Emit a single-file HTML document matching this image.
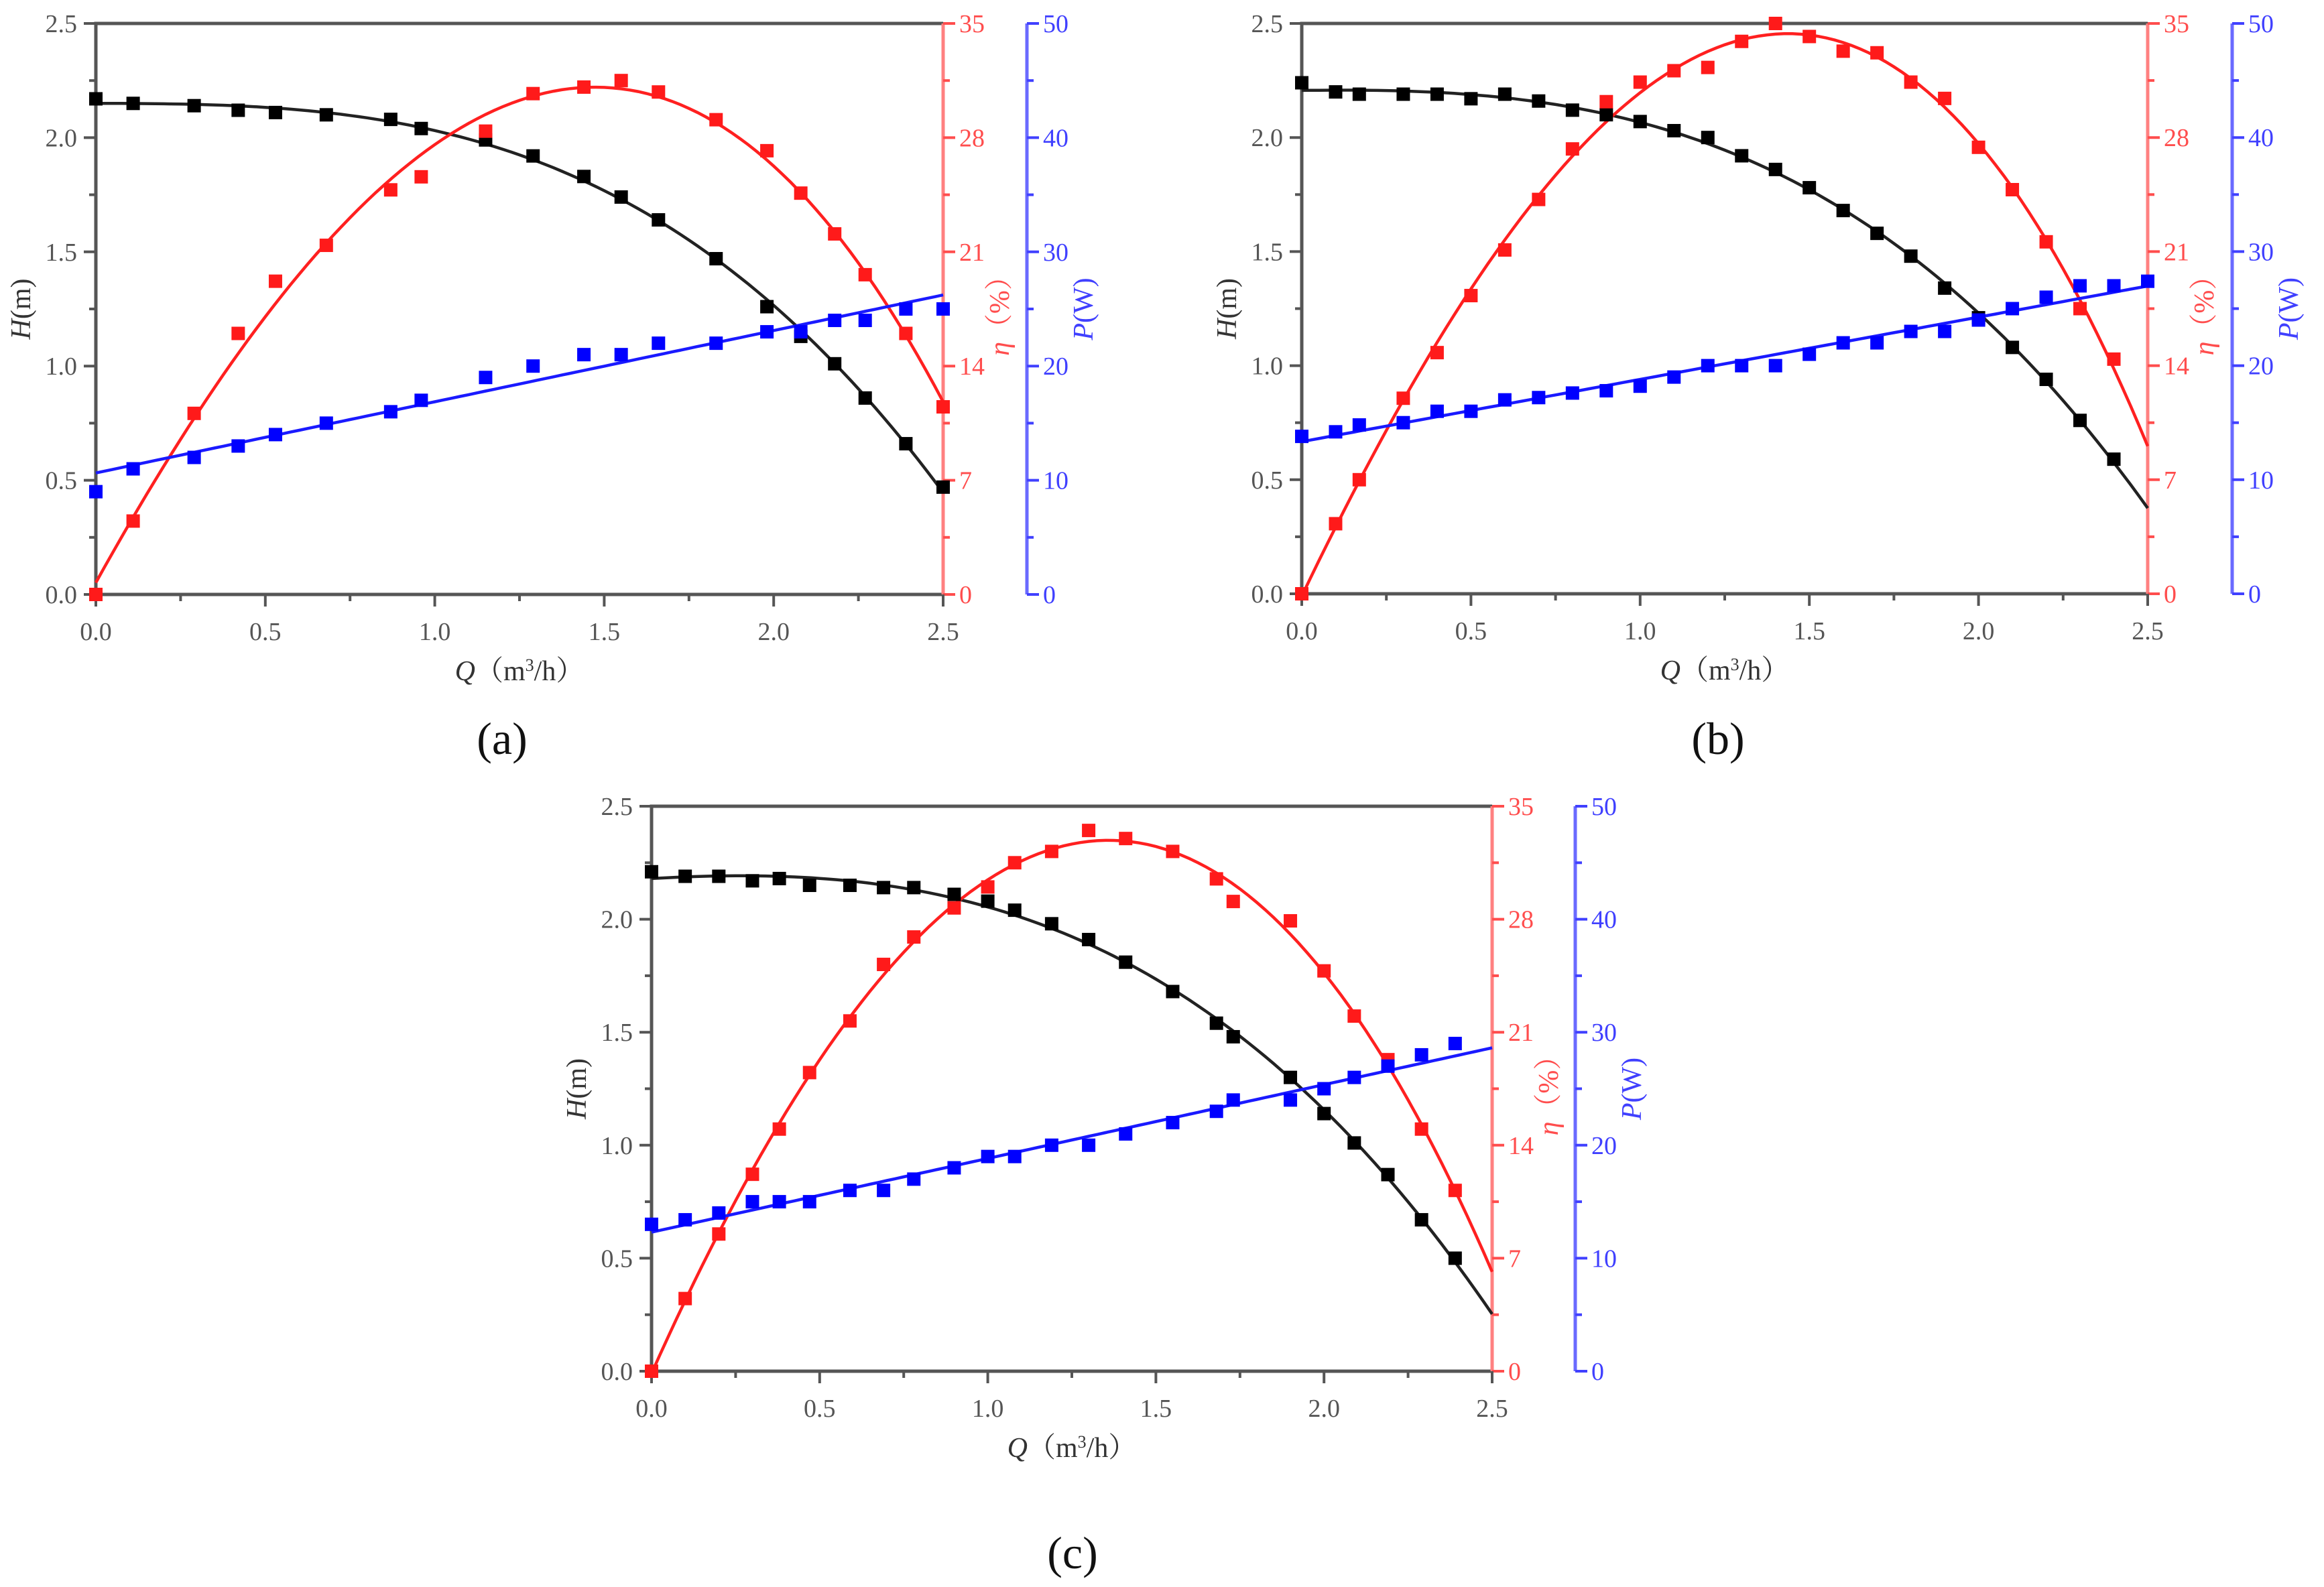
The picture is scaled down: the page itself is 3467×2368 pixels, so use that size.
<!DOCTYPE html>
<html><head><meta charset="utf-8">
<style>
html,body{margin:0;padding:0;background:#fff;}
svg{display:block;}
text{font-family:"Liberation Serif","Noto Serif CJK SC",serif;}
</style></head>
<body>
<svg id="fig" width="3467" height="2368" viewBox="0 0 3467 2368" xmlns="http://www.w3.org/2000/svg"></svg>
<script>
// ---- Panel (a) data ----
const qA   = [0,0.11,0.29,0.42,0.53,0.68,0.87,0.96,1.15,1.29,1.44,1.55,1.66,1.83,1.98,2.08,2.18,2.27,2.39,2.5];
const headA= [2.17,2.15,2.14,2.12,2.11,2.10,2.08,2.04,1.99,1.92,1.83,1.74,1.64,1.47,1.26,1.13,1.01,0.86,0.66,0.47];
const effA = [0,4.5,11.1,16,19.2,21.4,24.8,25.6,28.4,30.7,31.1,31.5,30.8,29.1,27.2,24.6,22.1,19.6,16,11.5];
const powA = [9,11,12,13,14,15,16,17,19,20,21,21,22,22,23,23,24,24,25,25];
// ---- Panel (b) data ----
const qB   = [0,0.1,0.17,0.3,0.4,0.5,0.6,0.7,0.8,0.9,1.0,1.1,1.2,1.3,1.4,1.5,1.6,1.7,1.8,1.9,2.0,2.1,2.2,2.3,2.4];
const headB= [2.24,2.20,2.19,2.19,2.19,2.17,2.19,2.16,2.12,2.10,2.07,2.03,2.00,1.92,1.86,1.78,1.68,1.58,1.48,1.34,1.21,1.08,0.94,0.76,0.59];
const effB = [0,4.3,7,12,14.8,18.3,21.1,24.2,27.3,30.2,31.4,32.1,32.3,33.9,35,34.2,33.3,33.2,31.4,30.4,27.4,24.8,21.6,17.5,14.4];
const qBp  = [0,0.1,0.17,0.3,0.4,0.5,0.6,0.7,0.8,0.9,1.0,1.1,1.2,1.3,1.4,1.5,1.6,1.7,1.8,1.9,2.0,2.1,2.2,2.3,2.4,2.5];
const powB = [13.8,14.2,14.8,15,16,16,17,17.2,17.6,17.8,18.2,19,20,20,20,21,22,22,23,23,24,25,26,27,27,27.4];
// ---- Panel (c) data ----
const qC   = [0,0.1,0.2,0.3,0.38,0.47,0.59,0.69,0.78,0.9,1.0,1.08,1.19,1.3,1.41,1.55,1.68,1.73,1.9,2.0,2.09,2.19,2.29,2.39];
const headC= [2.21,2.19,2.19,2.17,2.18,2.15,2.15,2.14,2.14,2.11,2.08,2.04,1.98,1.91,1.81,1.68,1.54,1.48,1.30,1.14,1.01,0.87,0.67,0.50];
const effC = [0,4.5,8.5,12.2,15,18.5,21.7,25.2,26.9,28.7,30,31.5,32.2,33.5,33,32.2,30.5,29.1,27.9,24.8,22,19.3,15,11.2];
const powC = [13,13.4,14,15,15,15,16,16,17,18,19,19,20,20,21,22,23,24,24,25,26,27,28,29];
// ---- Axis tick labels ----
const xTicks = ["0.0","0.5","1.0","1.5","2.0","2.5"];
const hTicks = ["0.0","0.5","1.0","1.5","2.0","2.5"];
const eTicks = ["0","7","14","21","28","35"];
const pTicks = ["0","10","20","30","40","50"];

const NS="http://www.w3.org/2000/svg";
const svg=document.getElementById('fig');
function mk(tag,attrs,parent){const e=document.createElementNS(NS,tag);for(const k in attrs)e.setAttribute(k,attrs[k]);(parent||svg).appendChild(e);return e;}

function polyfit(xs,ys,deg){
  const n=deg+1;const A=[];for(let i=0;i<n;i++){A.push(new Array(n+1).fill(0));}
  for(let k=0;k<xs.length;k++){for(let i=0;i<n;i++){for(let j=0;j<n;j++)A[i][j]+=Math.pow(xs[k],i+j);A[i][n]+=ys[k]*Math.pow(xs[k],i);}}
  for(let i=0;i<n;i++){let p=i;for(let r=i+1;r<n;r++)if(Math.abs(A[r][i])>Math.abs(A[p][i]))p=r;[A[i],A[p]]=[A[p],A[i]];
    for(let r=0;r<n;r++){if(r===i)continue;const f=A[r][i]/A[i][i];for(let c=i;c<=n;c++)A[r][c]-=f*A[i][c];}}
  return A.map((row,i)=>row[n]/row[i]);
}
function peval(c,x){let s=0;for(let i=c.length-1;i>=0;i--)s=s*x+c[i];return s;}

function panel(id,L,T,R,B,BL,q,head,eff,qp,pow,label,lx,ly){
  const g=mk('g',{});
  
  
  const xs=v=>L+(v/2.5)*(R-L);
  const yH=v=>B-(v/2.5)*(B-T);
  const yE=v=>B-(v/35)*(B-T);
  const yP=v=>B-(v/50)*(B-T);
  const gray='#555',red='#ff4d4d',blue='#4040ff';
  // frame
  const fr=mk('path',{d:`M${L},${B}L${L},${T}L${R},${T}`,stroke:gray,'stroke-width':5,fill:'none'},g);
  
  const xa=mk('line',{x1:L,y1:B,x2:R,y2:B,stroke:gray,'stroke-width':5},g);
  
  const ra=mk('line',{x1:R,y1:T,x2:R,y2:B,stroke:'#ff8080','stroke-width':5},g);
  
  const ba=mk('line',{x1:BL,y1:T,x2:BL,y2:B,stroke:'#6a6aff','stroke-width':5},g);
  
  // ticks
  for(let i=0;i<=10;i++){
    const major=i%2===0,len=major?18:10;
    const v=i*0.25;
    mk('line',{x1:xs(v),y1:B,x2:xs(v),y2:B+len,stroke:gray,'stroke-width':4},g);
    mk('line',{x1:L,y1:yH(v),x2:L-len,y2:yH(v),stroke:gray,'stroke-width':4},g);
    mk('line',{x1:R,y1:yH(v),x2:R+len,y2:yH(v),stroke:red,'stroke-width':4},g);
    mk('line',{x1:BL,y1:yH(v),x2:BL+len,y2:yH(v),stroke:blue,'stroke-width':4},g);
  }
  for(let i=0;i<6;i++){
    const t1=mk('text',{x:xs(i*0.5),y:B+68,'font-size':38,fill:gray,'text-anchor':'middle'},g);t1.textContent=xTicks[i];
    
    const t2=mk('text',{x:L-28,y:yH(i*0.5)+13,'font-size':38,fill:gray,'text-anchor':'end'},g);t2.textContent=hTicks[i];
    
    const t3=mk('text',{x:R+24,y:yE(i*7)+13,'font-size':38,fill:red,'text-anchor':'start'},g);t3.textContent=eTicks[i];
    
    const t4=mk('text',{x:BL+24,y:yP(i*10)+13,'font-size':38,fill:blue,'text-anchor':'start'},g);t4.textContent=pTicks[i];
    
  }
  // titles
  const mid=(T+B)/2;
  const th=mk('text',{x:L-98,y:mid,'font-size':42,fill:'#333','text-anchor':'middle',transform:`rotate(-90 ${L-98} ${mid})`},g);
  th.innerHTML='<tspan font-style="italic">H</tspan>(m)';
  
  const te=mk('text',{x:R+98,y:mid,'font-size':42,fill:red,'text-anchor':'middle',transform:`rotate(-90 ${R+98} ${mid})`},g);
  te.innerHTML='<tspan font-style="italic">η</tspan>（%）';
  
  const tp=mk('text',{x:BL+98,y:mid,'font-size':42,fill:blue,'text-anchor':'middle',transform:`rotate(-90 ${BL+98} ${mid})`},g);
  tp.innerHTML='<tspan font-style="italic">P</tspan>(W)';
  
  const tx=mk('text',{x:(L+R)/2,y:B+128,'font-size':42,fill:'#333','text-anchor':'middle'},g);
  tx.innerHTML='<tspan font-style="italic">Q</tspan>（m<tspan dy="-14" font-size="26">3</tspan><tspan dy="14">/h）</tspan>';
  
  const pl=mk('text',{x:lx,y:ly,'font-size':68,fill:'#111','text-anchor':'middle'},g);
  pl.textContent=label;
  
  // fits
  function curve(xd,yd,deg,ymap,color,name){
    const c=polyfit(xd,yd,deg);let d='';
    for(let i=0;i<=100;i++){const v=2.5*i/100;d+=(i?'L':'M')+xs(v).toFixed(1)+','+ymap(peval(c,v)).toFixed(1);}
    const p=mk('path',{d:d,stroke:color,'stroke-width':4.5,fill:'none'},g);
    
  }
  function pts(xd,yd,ymap,color,name){
    for(let i=0;i<xd.length;i++){
      const r=mk('rect',{x:xs(xd[i])-10,y:ymap(yd[i])-10,width:20,height:20,fill:color},g);
      
    }
  }
  curve(q,head,3,yH,'#222','head-fit-line');
  curve(q,eff,3,yE,'#ff2020','efficiency-fit-line');
  curve(qp,pow,1,yP,'#1a1aff','power-fit-line');
  pts(q,head,yH,'#000','head-point');
  pts(q,eff,yE,'#ff1a1a','efficiency-point');
  pts(qp,pow,yP,'#0000ff','power-point');
}
panel('a',143,35,1407,887,1532,qA,headA,effA,qA,powA,'(a)',749,1125);
panel('b',1942,35,3204,886,3330,qB,headB,effB,qBp,powB,'(b)',2563,1125);
panel('c',972,1203,2226,2046,2350,qC,headC,effC,qC,powC,'(c)',1600,2340);
</script>
</body></html>
